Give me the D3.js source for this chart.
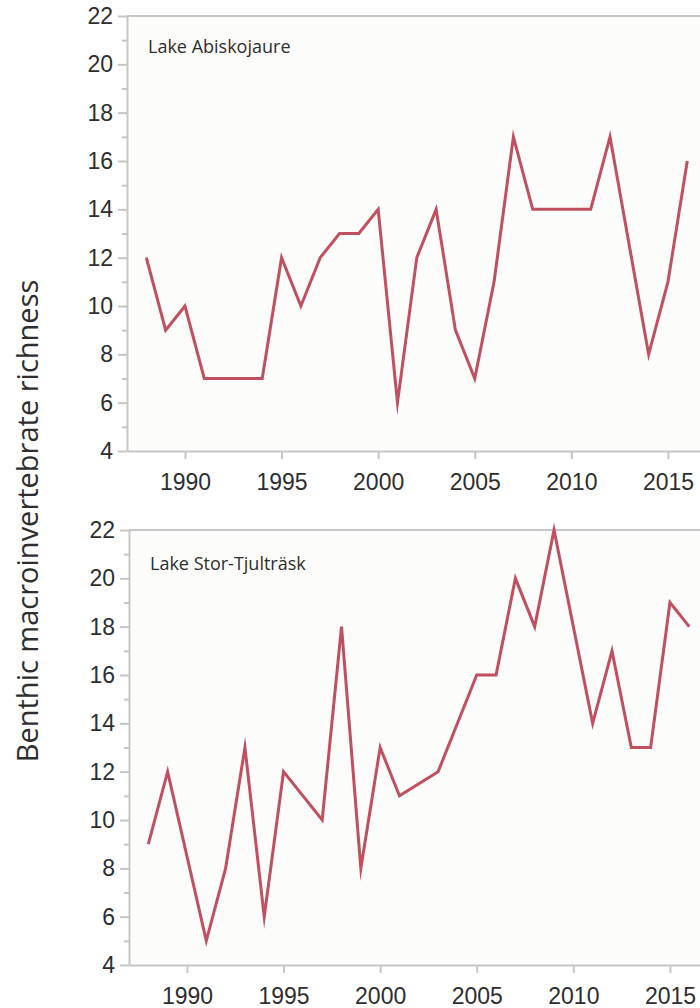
<!DOCTYPE html>
<html>
<head>
<meta charset="utf-8">
<script src="https://cdn.jsdelivr.net/npm/d3@7"></script>
<style>
  html, body { margin: 0; padding: 0; background: #ffffff; }
  svg { display: block; }
</style>
</head>
<body>
<svg id="chart" width="700" height="1008"></svg>
<script>
// ---- Data ----
const yAxisTitle = "Benthic macroinvertebrate richness";
const lakeNames = ["Lake Abiskojaure", "Lake Stor-Tjulträsk"];

const yearsAbisko = [1988, 1989, 1990, 1991, 1992, 1993, 1994, 1995, 1996, 1997, 1998, 1999, 2000,
  2001, 2002, 2003, 2004, 2005, 2006, 2007, 2008, 2009, 2010, 2011, 2012, 2014, 2015, 2016];
const richAbisko = [12, 9, 10, 7, 7, 7, 7, 12, 10, 12, 13, 13, 14,
  6, 12, 14, 9, 7, 11, 17, 14, 14, 14, 14, 17, 8, 11, 16];

const yearsStor = [1988, 1989, 1991, 1992, 1993, 1994, 1995, 1997, 1998, 1999, 2000, 2001, 2003,
  2005, 2006, 2007, 2008, 2009, 2011, 2012, 2013, 2014, 2015, 2016];
const richStor = [9, 12, 5, 8, 13, 6, 12, 10, 18, 8, 13, 11, 12,
  16, 16, 20, 18, 22, 14, 17, 13, 13, 19, 18];

const xTickYears = [1990, 1995, 2000, 2005, 2010, 2015];
const yMajorTicks = [4, 6, 8, 10, 12, 14, 16, 18, 20, 22];
const yMinorTicks = [5, 7, 9, 11, 13, 15, 17, 19, 21];
const xDomain = [1987, 2018];
const yDomain = [4, 22];

// ---- Styles ----
const lineColor = "#c0505f";
const axisColor = "#c6c6c6";
const textColor = "#2e2e2e";
const plotBg = "#fcfcfa";
const tickFont = "'Liberation Sans', Arial, Helvetica, sans-serif";
const labelFont = "'Open Sans', 'Noto Sans', sans-serif";

const svg = d3.select("#chart");

const panels = [
  { name: lakeNames[0], years: yearsAbisko, values: richAbisko, left: 127, top: 16, bottom: 451, labelDy: 37 },
  { name: lakeNames[1], years: yearsStor, values: richStor, left: 129, top: 530, bottom: 965, labelDy: 40 }
];

panels.forEach(p => {
  const pxPerYear = 19.32;
  const x = d3.scaleLinear().domain(xDomain).range([p.left, p.left + (xDomain[1] - xDomain[0]) * pxPerYear]);
  const y = d3.scaleLinear().domain(yDomain).range([p.bottom, p.top]);
  const g = svg.append("g");

  // background
  g.append("rect")
    .attr("x", x(xDomain[0])).attr("y", y(yDomain[1]))
    .attr("width", x(xDomain[1]) - x(xDomain[0]))
    .attr("height", y(yDomain[0]) - y(yDomain[1]))
    .attr("fill", plotBg);

  // top frame line
  g.append("line")
    .attr("x1", x(xDomain[0])).attr("x2", x(xDomain[1]))
    .attr("y1", y(yDomain[1])).attr("y2", y(yDomain[1]))
    .attr("stroke", axisColor).attr("stroke-width", 2);

  // minor y ticks
  const yMinor = g.append("g").attr("transform", `translate(${x(xDomain[0])},0)`)
    .call(d3.axisLeft(y).tickValues(yMinorTicks).tickSize(5).tickSizeOuter(0).tickFormat(""));
  yMinor.select(".domain").remove();

  // major y axis
  const yAx = g.append("g").attr("transform", `translate(${x(xDomain[0])},0)`)
    .call(d3.axisLeft(y).tickValues(yMajorTicks).tickSize(9).tickSizeOuter(0).tickPadding(5));

  // x axis
  const xAx = g.append("g").attr("transform", `translate(0,${y(yDomain[0])})`)
    .call(d3.axisBottom(x).tickValues(xTickYears).tickSize(8).tickSizeOuter(0).tickPadding(15)
      .tickFormat(d3.format("d")));

  [yMinor, yAx, xAx].forEach(a => {
    a.selectAll(".domain").attr("stroke", axisColor).attr("stroke-width", 2);
    a.selectAll(".tick line").attr("stroke", axisColor).attr("stroke-width", 2);
    a.selectAll(".tick text").attr("fill", textColor)
      .style("font-family", tickFont).style("font-size", "23px");
  });

  // line
  const pts = p.years.map((yr, i) => [yr, p.values[i]]);
  g.append("path")
    .datum(pts)
    .attr("fill", "none")
    .attr("stroke", lineColor)
    .attr("stroke-width", 3)
    .attr("stroke-linejoin", "miter")
    .attr("stroke-miterlimit", 10)
    .attr("d", d3.line().x(d => x(d[0])).y(d => y(d[1])));

  // panel label
  g.append("text")
    .attr("x", x(xDomain[0]) + 21)
    .attr("y", y(yDomain[1]) + p.labelDy)
    .attr("fill", textColor)
    .style("font-family", labelFont)
    .style("font-size", "18px")
    .text(p.name);
});

// y axis title
svg.append("text")
  .attr("transform", "translate(38,521) rotate(-90)")
  .attr("text-anchor", "middle")
  .attr("fill", textColor)
  .style("font-family", labelFont)
  .style("font-size", "29px")
  .text(yAxisTitle);
</script>
</body>
</html>
